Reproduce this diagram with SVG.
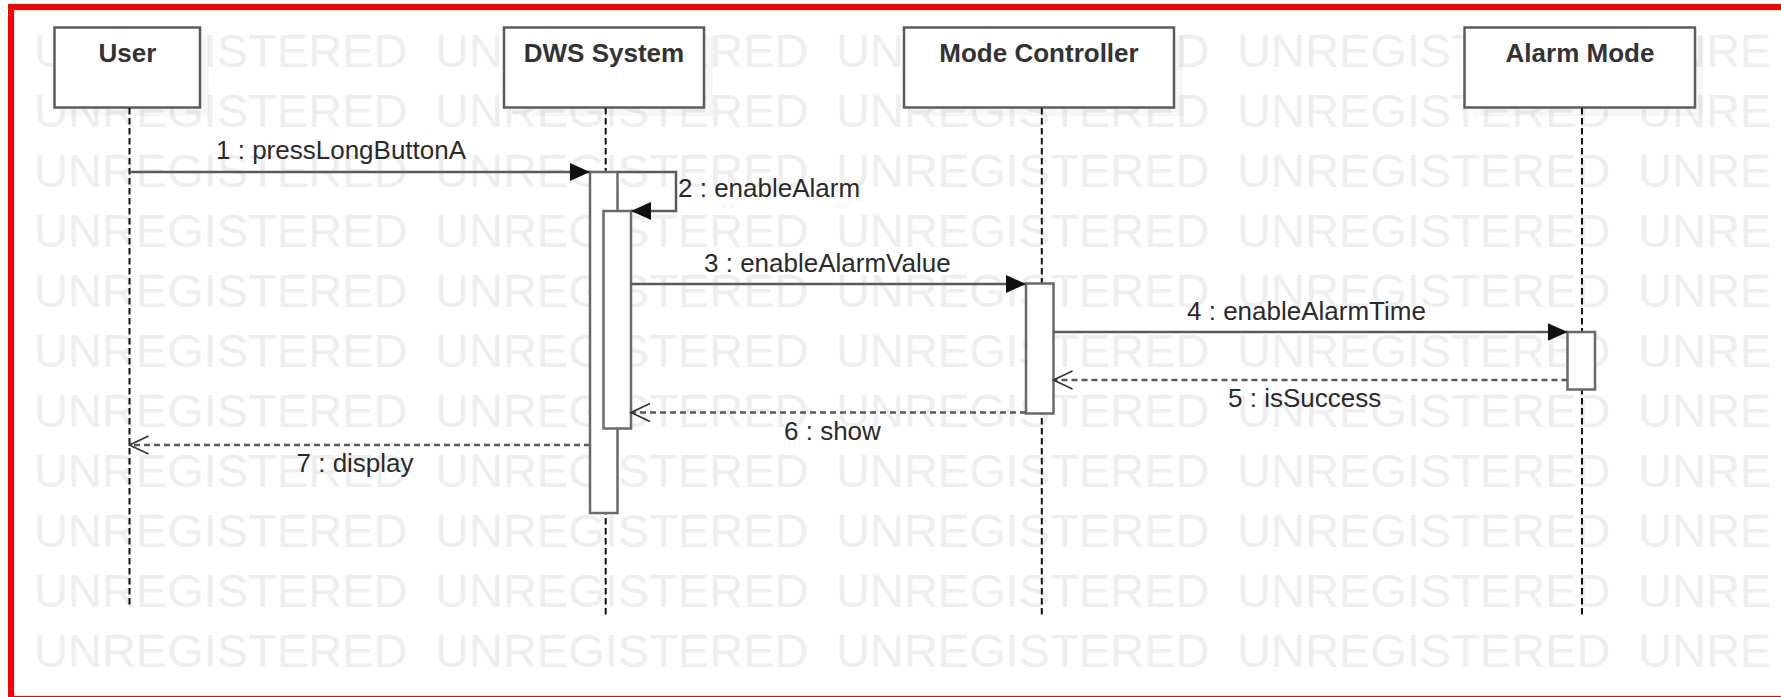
<svg xmlns="http://www.w3.org/2000/svg" width="1781" height="697" viewBox="0 0 1781 697">
<style>
.wm{font-family:"Liberation Sans",Arial,sans-serif;font-size:47px;fill:#eeeeee}
.box{fill:#fff;stroke:#5c5c5c;stroke-width:2.5}
.shadow{fill:#000;fill-opacity:0.03}
.title{font-family:"Liberation Sans",Arial,sans-serif;font-size:26px;font-weight:bold;fill:#333;text-anchor:middle}
.life{stroke:#111;stroke-width:2;stroke-dasharray:6.5 3.5;fill:none}
.act{fill:#fff;stroke:#6a6a6a;stroke-width:2.5}
.msg{stroke:#5a5a5a;stroke-width:2.5;fill:none}
.ret{stroke:#5a5a5a;stroke-width:2.5;fill:none;stroke-dasharray:6 4}
.lbl{font-family:"Liberation Sans",Arial,sans-serif;font-size:26px;fill:#2a2a2a}
</style>
<defs>
<clipPath id="wmclip"><rect x="0" y="0" width="1772" height="697"/></clipPath>
<marker id="filled" viewBox="0 0 20 18" refX="20" refY="9" markerWidth="20" markerHeight="18" markerUnits="userSpaceOnUse" orient="auto">
<path d="M0,0 L20,9 L0,18 z" fill="#111"/>
</marker>
<marker id="open" viewBox="-1 -1 22 20" refX="19" refY="9" markerWidth="22" markerHeight="20" markerUnits="userSpaceOnUse" orient="auto">
<path d="M0,0 L19,9 L0,18" fill="none" stroke="#333" stroke-width="1.6"/>
</marker>
</defs>
<rect x="0" y="0" width="1781" height="697" fill="#fff"/>
<g id="watermark" clip-path="url(#wmclip)">
<text class="wm" x="34" y="67">UNREGISTERED</text><text class="wm" x="435" y="67">UNREGISTERED</text><text class="wm" x="836" y="67">UNREGISTERED</text><text class="wm" x="1237" y="67">UNREGISTERED</text><text class="wm" x="1638" y="67">UNRE</text>
<text class="wm" x="34" y="127">UNREGISTERED</text><text class="wm" x="435" y="127">UNREGISTERED</text><text class="wm" x="836" y="127">UNREGISTERED</text><text class="wm" x="1237" y="127">UNREGISTERED</text><text class="wm" x="1638" y="127">UNRE</text>
<text class="wm" x="34" y="187">UNREGISTERED</text><text class="wm" x="435" y="187">UNREGISTERED</text><text class="wm" x="836" y="187">UNREGISTERED</text><text class="wm" x="1237" y="187">UNREGISTERED</text><text class="wm" x="1638" y="187">UNRE</text>
<text class="wm" x="34" y="247">UNREGISTERED</text><text class="wm" x="435" y="247">UNREGISTERED</text><text class="wm" x="836" y="247">UNREGISTERED</text><text class="wm" x="1237" y="247">UNREGISTERED</text><text class="wm" x="1638" y="247">UNRE</text>
<text class="wm" x="34" y="307">UNREGISTERED</text><text class="wm" x="435" y="307">UNREGISTERED</text><text class="wm" x="836" y="307">UNREGISTERED</text><text class="wm" x="1237" y="307">UNREGISTERED</text><text class="wm" x="1638" y="307">UNRE</text>
<text class="wm" x="34" y="367">UNREGISTERED</text><text class="wm" x="435" y="367">UNREGISTERED</text><text class="wm" x="836" y="367">UNREGISTERED</text><text class="wm" x="1237" y="367">UNREGISTERED</text><text class="wm" x="1638" y="367">UNRE</text>
<text class="wm" x="34" y="427">UNREGISTERED</text><text class="wm" x="435" y="427">UNREGISTERED</text><text class="wm" x="836" y="427">UNREGISTERED</text><text class="wm" x="1237" y="427">UNREGISTERED</text><text class="wm" x="1638" y="427">UNRE</text>
<text class="wm" x="34" y="487">UNREGISTERED</text><text class="wm" x="435" y="487">UNREGISTERED</text><text class="wm" x="836" y="487">UNREGISTERED</text><text class="wm" x="1237" y="487">UNREGISTERED</text><text class="wm" x="1638" y="487">UNRE</text>
<text class="wm" x="34" y="547">UNREGISTERED</text><text class="wm" x="435" y="547">UNREGISTERED</text><text class="wm" x="836" y="547">UNREGISTERED</text><text class="wm" x="1237" y="547">UNREGISTERED</text><text class="wm" x="1638" y="547">UNRE</text>
<text class="wm" x="34" y="607">UNREGISTERED</text><text class="wm" x="435" y="607">UNREGISTERED</text><text class="wm" x="836" y="607">UNREGISTERED</text><text class="wm" x="1237" y="607">UNREGISTERED</text><text class="wm" x="1638" y="607">UNRE</text>
<text class="wm" x="34" y="667">UNREGISTERED</text><text class="wm" x="435" y="667">UNREGISTERED</text><text class="wm" x="836" y="667">UNREGISTERED</text><text class="wm" x="1237" y="667">UNREGISTERED</text><text class="wm" x="1638" y="667">UNRE</text>
</g>
<g id="user">
<rect class="shadow" x="63" y="36" width="146" height="80"/>
<rect class="box" x="54.5" y="27.5" width="145.5" height="80"/>
<text class="title" x="127.5" y="62">User</text>
<line class="life" x1="129.5" y1="108" x2="129.5" y2="605"/>
</g>
<g id="dws">
<rect class="shadow" x="513" y="36" width="200" height="80"/>
<rect class="box" x="504" y="27.5" width="200" height="80"/>
<text class="title" x="604" y="62">DWS System</text>
<line class="life" x1="605.7" y1="108" x2="605.7" y2="618"/>
<rect class="act" x="590" y="172" width="27.5" height="341"/>
<rect class="act" x="603.5" y="211" width="27.5" height="217.5"/>
</g>
<g id="mode-controller">
<rect class="shadow" x="913" y="36" width="270" height="80"/>
<rect class="box" x="904" y="27.5" width="270" height="80"/>
<text class="title" x="1039" y="62">Mode Controller</text>
<line class="life" x1="1041.8" y1="108" x2="1041.8" y2="618"/>
<rect class="act" x="1026" y="283.5" width="27.5" height="130"/>
</g>
<g id="alarm-mode">
<rect class="shadow" x="1473" y="36" width="230.5" height="80"/>
<rect class="box" x="1464.5" y="27.5" width="230.5" height="80"/>
<text class="title" x="1580" y="62">Alarm Mode</text>
<line class="life" x1="1582" y1="108" x2="1582" y2="618"/>
<rect class="act" x="1567.5" y="332" width="27.5" height="57.5"/>
</g>
<g id="connectors">
<line class="msg" x1="129.5" y1="172" x2="590" y2="172" marker-end="url(#filled)"/>
<text class="lbl" x="216" y="158.5">1 : pressLongButtonA</text>
<path class="msg" d="M617.5,172 H676 V211 H631" marker-end="url(#filled)"/>
<text class="lbl" x="678" y="197">2 : enableAlarm</text>
<line class="msg" x1="631" y1="284" x2="1026" y2="284" marker-end="url(#filled)"/>
<text class="lbl" x="704" y="272">3 : enableAlarmValue</text>
<line class="msg" x1="1053.5" y1="332" x2="1567.5" y2="332" marker-end="url(#filled)"/>
<text class="lbl" x="1187" y="320">4 : enableAlarmTime</text>
<line class="ret" x1="1567.5" y1="380" x2="1053.5" y2="380" marker-end="url(#open)"/>
<text class="lbl" x="1228" y="407">5 : isSuccess</text>
<line class="ret" x1="1026" y1="412.5" x2="631" y2="412.5" marker-end="url(#open)"/>
<text class="lbl" x="784" y="440">6 : show</text>
<line class="ret" x1="590" y1="445" x2="129.5" y2="445" marker-end="url(#open)"/>
<text class="lbl" x="296.5" y="471.5">7 : display</text>
</g>
<rect x="11" y="7" width="1790" height="692" fill="none" stroke="#ff0000" stroke-width="6"/>
</svg>
